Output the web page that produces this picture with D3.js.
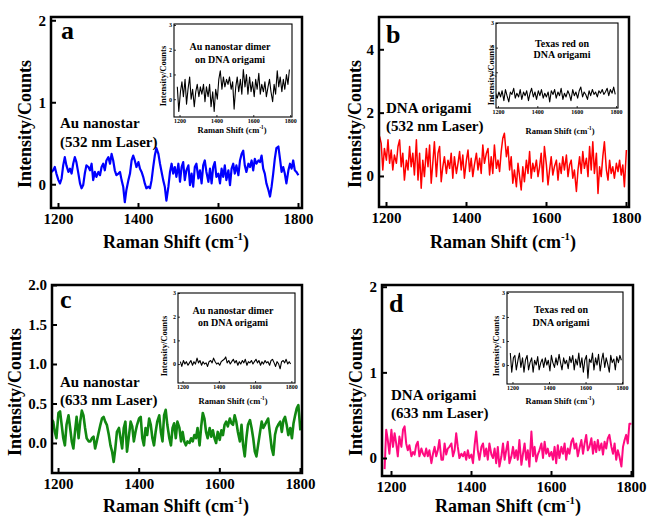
<!DOCTYPE html>
<html><head><meta charset="utf-8">
<script src="https://cdn.jsdelivr.net/npm/d3@7"></script>
<style>
body{margin:0;background:#fff}
svg{display:block}
text{font-family:"Liberation Serif","Times New Roman",serif;font-weight:bold;fill:#000}
</style>
</head><body>
<svg id="chart" width="647" height="519"></svg>
<script>
// ---------- DATA ----------
const shiftMain = [1184,
 1188,1192,1196,1201,1205,1209, 1213,1217,1221,1226,1230,1234, 1238,1242,1246,1251,1255,1259,
 1263,1267,1271,1276,1280,1284, 1288,1292,1296,1301,1305,1309, 1313,1317,1321,1326,1330,1334,
 1338,1342,1346,1351,1355,1359, 1363,1367,1371,1376,1380,1384, 1388,1392,1396,1401,1405,1409,
 1413,1417,1421,1426,1430,1434, 1438,1442,1446,1451,1455,1459, 1463,1467,1471,1476,1480,1484,
 1488,1492,1496,1501,1505,1509, 1513,1517,1521,1526,1530,1534, 1538,1542,1546,1551,1555,1559,
 1563,1567,1571,1576,1580,1584, 1588,1592,1596,1601,1605,1609, 1613,1617,1621,1626,1630,1634,
 1638,1642,1646,1651,1655,1659, 1663,1667,1671,1676,1680,1684, 1688,1692,1696,1701,1705,1709,
 1713,1717,1721,1726,1730,1734, 1738,1742,1746,1751,1755,1759, 1763,1767,1771,1776,1780,1784,
 1788,1792,1796,1801];

const shiftInset = [
 1188,1196,1205, 1213,1221,1230, 1238,1246,1255, 1263,1271,1280, 1288,1296,1305,
 1313,1321,1330, 1338,1346,1355, 1363,1371,1380, 1388,1396,1405, 1413,1421,1430,
 1438,1446,1455, 1463,1471,1480, 1488,1496,1505, 1513,1521,1530, 1538,1546,1555,
 1563,1571,1580, 1588,1596,1605, 1613,1621,1630, 1638,1646,1655, 1663,1671,1680,
 1688,1696,1705, 1713,1721,1730, 1738,1746,1755, 1763,1771,1780, 1788,1796];

// (a) Au nanostar, 532 nm
const auNanostar532 = [0.15,
 0.17,0.21,0.13,0.05,0.01,0.07,0.23,0.33,0.23,0.15,
 0.19,0.13,0.25,0.33,0.27,0.13,0.01,-0.05,-0.01,0.13,
 0.23,0.21,0.17,0.25,0.05,0.15,0.09,0.15,0.11,0.21,
 0.25,0.17,0.29,0.33,0.25,0.37,0.29,0.17,0.11,0.13,
 0.15,0.05,-0.03,-0.22,-0.07,0.05,0.13,0.29,0.35,0.29,
 0.21,0.27,0.19,0.15,0.09,0.01,-0.05,-0.03,-0.05,0.05,
 0.21,0.35,0.44,0.37,0.25,0.15,0.05,-0.03,-0.20,-0.03,
 0.15,0.25,0.13,0.21,0.09,0.25,0.03,0.21,0.27,0.05,
 0.17,0.23,-0.01,0.13,-0.03,0.21,0.25,0.07,0.17,0.01,
 0.23,0.29,0.15,0.03,0.19,0.01,0.21,0.27,0.09,0.13,
 0.01,0.19,0.09,0.23,0.05,0.17,-0.01,0.19,0.25,0.13,
 0.23,0.11,0.29,0.37,0.41,0.23,0.15,0.25,0.21,0.29,
 0.17,0.31,0.25,0.29,0.27,0.35,0.19,0.13,0.01,-0.07,
 -0.15,-0.03,0.13,0.31,0.44,0.46,0.31,0.15,0.21,0.13,
 0.01,0.17,0.25,0.19,0.29,0.17,0.15,0.11];

// (b) DNA origami, 532 nm
const dnaOrigami532 = [1.25,
 1.03,0.19,0.87,0.50,1.14,0.40,0.82,0.19,0.66,0.40,
 0.93,1.14,0.29,0.72,-0.13,0.50,0.19,0.93,0.29,0.72,
 0.03,1.14,-0.13,0.72,-0.39,0.50,-0.02,0.87,0.29,0.98,
 -0.23,0.40,1.08,-0.02,0.72,0.93,-0.18,0.29,0.61,0.08,
 0.50,0.24,0.72,-0.07,0.61,0.08,0.40,0.77,0.19,0.66,
 -0.07,0.50,0.82,0.14,0.56,-0.02,0.35,0.72,0.19,0.56,
 0.08,0.98,0.40,0.72,0.87,0.03,0.61,0.08,0.98,0.24,
 0.50,0.14,0.77,1.19,1.35,0.61,0.93,0.19,0.61,-0.23,
 0.19,-0.34,0.40,-0.02,-0.44,0.29,-0.18,0.50,0.08,0.77,
 -0.07,0.40,0.14,0.50,-0.02,0.29,0.72,-0.18,0.93,0.35,
 -0.28,0.19,0.61,0.03,0.29,0.50,-0.13,0.40,0.08,0.61,
 0.19,0.66,-0.02,0.35,0.50,-0.07,0.19,-0.49,0.19,0.61,
 0.08,0.77,0.24,0.56,-0.02,0.93,0.19,1.08,0.08,0.72,
 -0.55,0.29,-0.02,0.61,1.08,0.19,-0.13,0.50,0.08,0.29,
 -0.07,0.40,0.14,0.50,0.03,0.35,-0.34,0.82];

// (c) Au nanostar, 633 nm
const auNanostar633 = [0.30,
 0.27,0.14,0.06,0.38,0.40,0.23,0.06,-0.03,0.23,0.35,
 0.19,0.02,-0.07,0.14,0.33,0.06,0.27,0.41,0.35,0.19,
 0.06,0.02,0.02,0.06,0.08,-0.07,0.02,0.14,0.23,0.31,
 0.33,0.27,0.23,0.10,-0.03,-0.11,-0.24,-0.07,0.14,0.19,
 0.06,-0.07,0.19,0.27,-0.11,0.10,0.27,0.21,0.02,0.14,
 0.23,0.31,0.33,0.06,-0.03,0.19,0.10,0.31,0.23,0.06,
 -0.03,0.14,0.27,0.35,0.14,0.02,0.35,0.42,0.23,0.06,
 -0.03,0.19,0.25,0.06,0.27,0.19,0.02,0.14,0.02,-0.03,
 0.02,0.00,0.06,0.02,0.10,0.06,0.19,-0.03,0.21,0.38,
 0.31,0.14,0.06,0.19,0.08,0.16,0.06,0.00,0.14,0.04,
 0.16,0.10,0.23,0.27,0.21,0.31,0.25,0.23,0.35,0.27,
 0.14,0.02,0.23,-0.03,-0.17,0.06,0.23,0.29,0.19,0.06,
 -0.11,-0.17,-0.03,0.14,0.27,0.19,0.23,0.27,0.31,0.10,
 -0.07,-0.15,0.10,0.19,0.23,0.27,0.14,0.29,0.33,0.23,
 0.10,0.19,0.06,0.25,0.35,0.44,0.48,0.16];

// (d) DNA origami, 633 nm
const dnaOrigami633 = [-0.13,
 0.33,0.21,0.05,0.33,0.13,0.29,0.17,0.02,0.25,0.13,
 0.33,0.37,0.17,0.09,0.15,0.02,0.07,0.04,0.15,0.19,
 0.02,0.11,0.05,0.02,0.11,0.02,0.09,-0.06,0.05,0.13,
 0.02,0.09,0.21,-0.02,-0.02,0.17,0.04,0.11,0.13,0.17,
 0.02,0.09,0.29,0.13,0.00,0.05,0.02,0.07,-0.02,0.09,
 0.00,0.04,-0.06,0.15,0.31,0.09,-0.02,0.13,0.17,0.02,
 0.11,-0.02,0.17,0.04,0.00,0.11,-0.06,0.13,-0.10,0.02,
 0.17,-0.02,0.09,0.19,-0.06,0.02,0.13,0.00,0.09,-0.02,
 0.21,-0.08,0.05,0.17,-0.02,0.09,-0.10,0.31,0.02,0.13,
 -0.04,0.04,0.09,0.17,0.00,0.19,0.05,0.11,0.02,0.07,
 -0.02,0.13,-0.06,0.15,0.00,0.13,0.05,0.17,-0.02,0.11,
 0.05,0.19,0.23,0.11,0.17,0.02,0.11,0.21,0.05,0.17,
 0.27,0.09,0.13,0.23,0.05,0.19,0.07,0.21,0.09,0.17,
 0.04,0.19,0.11,0.23,0.27,0.13,0.05,0.17,-0.02,0.09,
 0.02,-0.10,0.13,0.21,0.27,0.17,0.40,0.40];

// insets
const dimer532 = [
 0.5,-0.5,0.3, 0.7,0.1,0.8, -0.2,0.4,0.9, 0.0,0.4,-0.3, 0.3,0.6,0.1,
 0.5,0.2,0.6, -0.1,0.5,0.1, 0.6,-0.3,0.3, -0.5,0.4,0.0, 0.8,1.15,0.4,
 0.9,0.5,0.8, 0.6,0.9,0.4, 0.7,-0.4,0.5, 0.9,0.3,0.8, 0.2,1.2,0.5,
 1.0,0.2,0.9, 0.3,0.7,0.1, 0.8,0.4,1.05, 0.2,0.6,0.3, 0.7,0.1,0.5,
 0.8,0.3,-0.1, 0.6,0.2,1.15, 0.5,0.9,0.3, 0.8,0.4,1.0, 0.6,1.2];
const texasRed532 = [
 0.15,-0.05,0.2,0.0,0.25,-0.15,0.3,0.05,-0.2,0.2,
 0.1,0.35,-0.05,0.15,0.0,0.3,-0.1,0.2,0.05,0.25,
 -0.15,0.15,0.35,0.0,0.2,-0.1,0.25,0.05,0.3,-0.05,
 0.15,0.0,0.2,-0.2,0.25,0.1,0.3,-0.05,0.2,0.05,
 0.35,-0.1,0.15,0.0,0.25,0.1,-0.15,0.3,0.05,0.2,
 -0.05,0.25,0.4,0.0,0.2,0.1,-0.1,0.25,0.05,0.3,
 0.1,0.2,0.0,0.25,0.15,0.3,0.1,0.2,0.35,0.05,
 0.3,0.15,0.4,0.1];
const dimer633 = [
 0.1,-0.1,0.15,0.0,0.1,-0.05,0.05,0.15,-0.05,0.1,
 0.0,0.25,0.05,0.15,-0.05,0.1,0.0,0.05,-0.1,0.1,
 0.15,0.05,0.25,0.1,0.0,0.05,-0.05,0.1,0.15,0.2,
 0.3,0.05,0.15,0.0,0.1,0.2,0.05,0.15,-0.05,0.1,
 0.0,0.15,0.05,0.2,-0.05,0.1,0.05,0.15,0.0,0.1,
 0.2,0.05,0.15,-0.05,0.1,0.0,0.15,0.05,0.1,-0.05,
 0.15,0.2,0.05,-0.1,0.1,0.0,-0.2,0.1,0.15,0.05,
 0.2,0.0,0.1,0.0];
const texasRed633 = [
 0.5,-0.3,0.3,0.4,-0.2,0.2,0.5,-0.1,0.3,-0.3,
 0.2,0.4,-0.2,0.1,0.3,-0.3,0.2,0.0,0.35,-0.2,
 0.1,0.25,-0.1,0.3,0.0,0.2,-0.25,0.4,0.1,-0.1,
 0.3,0.0,0.45,0.1,-0.2,0.3,0.05,0.2,-0.15,0.35,
 0.1,0.4,-0.2,0.25,0.0,0.5,-0.1,0.3,-0.3,0.2,
 0.4,-0.55,0.25,0.1,0.5,-0.2,0.3,0.0,0.45,-0.25,
 0.2,0.5,-0.1,0.3,0.05,-0.3,0.4,0.1,0.25,-0.2,
 0.35,0.1,0.4,0.2];

const xTicks = [1200, 1400, 1600, 1800];
const yTicksA = [0, 1, 2];
const yTicksB = [0, 2, 4];
const yTicksC = [0, 0.5, 1.0, 1.5, 2.0];
const yTicksD = [0, 1, 2];
const insetYTicks = [0, 1, 2, 3];
const panelLetters = ["a", "b", "c", "d"];
const sampleNames = ["Au nanostar", "DNA origami", "Au nanostar", "DNA origami"];
const laserNames = ["(532 nm Laser)", "(532 nm Laser)", "(633 nm Laser)", "(633 nm Laser)"];
const insetNames = [["Au nanostar dimer", "on DNA origami"], ["Texas red on", "DNA origami"],
                    ["Au nanostar dimer", "on DNA origami"], ["Texas red on", "DNA origami"]];
const yTitle = "Intensity/Counts";

// ---------- DRAWING ----------
const svg = d3.select("#chart");
const SERIF = '"Liberation Serif","Times New Roman",serif';
let clipN = 0;

function ramanTitle(cx, baseline, size) {
  const t = svg.append("text").attr("x", cx).attr("y", baseline)
    .attr("text-anchor", "middle").attr("font-size", size);
  t.append("tspan").text("Raman Shift (cm");
  t.append("tspan").attr("dy", -size * 0.42).attr("font-size", size * 0.6).text("-1");
  t.append("tspan").attr("dy", size * 0.42).text(")");
}
function yTitleText(cx, cy, size) {
  svg.append("text").attr("transform", `translate(${cx},${cy}) rotate(-90)`)
    .attr("text-anchor", "middle").attr("dominant-baseline", "central")
    .attr("font-size", size).text(yTitle);
}

function plot(p) {
  const x = d3.scaleLinear().domain(p.xDom).range([p.l, p.r]);
  const y = d3.scaleLinear().domain(p.yDom).range([p.b, p.t]);
  if (p.fill) svg.append("rect").attr("x", p.l).attr("y", p.t)
    .attr("width", p.r - p.l).attr("height", p.b - p.t).attr("fill", "#fff");
  const id = "clip" + (clipN++);
  svg.append("clipPath").attr("id", id).append("rect")
    .attr("x", p.l).attr("y", p.t).attr("width", p.r - p.l).attr("height", p.b - p.t);
  svg.append("path").datum(p.values)
    .attr("clip-path", `url(#${id})`)
    .attr("fill", "none").attr("stroke", p.color).attr("stroke-width", p.lw)
    .attr("stroke-linejoin", "round")
    .attr("d", d3.line().x((d, i) => x(p.xs[i])).y(d => y(d)));

  const gx = svg.append("g").attr("transform", `translate(0,${p.b})`)
    .call(d3.axisBottom(x).tickValues(xTicks).tickFormat(d3.format("d"))
      .tickSizeInner(-p.tick).tickSizeOuter(0).tickPadding(p.xpad));
  gx.select(".domain").remove();
  gx.attr("font-family", SERIF).attr("font-size", p.fs).attr("font-weight", "bold");
  gx.selectAll("line").attr("stroke-width", p.tw);

  const gy = svg.append("g").attr("transform", `translate(${p.l},0)`)
    .call(d3.axisLeft(y).tickValues(p.yTicks).tickFormat(d3.format(p.yFmt))
      .tickSizeInner(-p.tick).tickSizeOuter(0).tickPadding(p.ypad));
  gy.select(".domain").remove();
  gy.attr("font-family", SERIF).attr("font-size", p.fs).attr("font-weight", "bold");
  gy.selectAll("line").attr("stroke-width", p.tw);

  svg.append("rect").attr("x", p.l).attr("y", p.t)
    .attr("width", p.r - p.l).attr("height", p.b - p.t)
    .attr("fill", "none").attr("stroke", "#000").attr("stroke-width", p.frame);
}

const mainCfg = [
  {l:51, r:302, t:17, b:208, xDom:[1182.5,1810], yDom:[-0.29,2.04], yTicks:yTicksA, yFmt:"d",
   values:auNanostar532, color:"#0000ff", lw:2.2,
   yT:[25,124], xT:[176,248], letter:[61,39], ann:[60,128,147]},
  {l:379, r:629, t:17, b:207, xDom:[1182.5,1807.5], yDom:[-0.98,5.02], yTicks:yTicksB, yFmt:"d",
   values:dnaOrigami532, color:"#ff0000", lw:1.5,
   yT:[355,124], xT:[503,248], letter:[386,43], ann:[386,113,131]},
  {l:52, r:302, t:285, b:473, xDom:[1185,1805], yDom:[-0.38,2.0], yTicks:yTicksC, yFmt:".1f",
   values:auNanostar633, color:"#118811", lw:2.6,
   yT:[15,392], xT:[176,512], letter:[60,308], ann:[60,387,405]},
  {l:382, r:633, t:285, b:476, xDom:[1177.5,1805], yDom:[-0.21,2.02], yTicks:yTicksD, yFmt:"d",
   values:dnaOrigami633, color:"#ff0a80", lw:2.0,
   yT:[356,392], xT:[508,512], letter:[389,312], ann:[391,400,418]}
];
const insetCfg = [
  {l:174, r:292, t:24, b:117, xDom:[1170,1810], yDom:[-0.72,3.04], values:dimer532,
   txt:[230,50,63], yT:[163,76], xT:[232,132.5]},
  {l:496, r:618, t:23, b:108, xDom:[1190,1810], yDom:[-0.45,3.0], values:texasRed532,
   txt:[562,47,58], yT:[491,75], xT:[560,133.5]},
  {l:178, r:295, t:293, b:383, xDom:[1175,1820], yDom:[-0.8,3.0], values:dimer633,
   txt:[233,314,326], yT:[164,346], xT:[233,404]},
  {l:507, r:623, t:292, b:384, xDom:[1170,1805], yDom:[-0.79,3.04], values:texasRed633,
   txt:[561,313,326], yT:[496,346], xT:[560,404]}
];

mainCfg.forEach((c, i) => {
  plot(Object.assign({xs:shiftMain, tick:5, tw:2, xpad:5, ypad:5, fs:15, frame:2.5}, c));
  yTitleText(c.yT[0], c.yT[1], 18);
  ramanTitle(c.xT[0], c.xT[1], 18);
  svg.append("text").attr("x", c.letter[0]).attr("y", c.letter[1])
    .attr("font-size", 26).text(panelLetters[i]);
  svg.append("text").attr("x", c.ann[0]).attr("y", c.ann[1]).attr("font-size", 15).text(sampleNames[i]);
  svg.append("text").attr("x", c.ann[0]).attr("y", c.ann[2]).attr("font-size", 15).text(laserNames[i]);

  const s = insetCfg[i];
  plot(Object.assign({xs:shiftInset, tick:2, tw:0.8, xpad:1.5, ypad:2, fs:6, frame:1.1,
    yTicks:insetYTicks, yFmt:"d", color:"#000", lw:1.1, fill:true}, s));
  svg.append("text").attr("x", s.txt[0]).attr("y", s.txt[1]).attr("text-anchor", "middle")
    .attr("font-size", 10).text(insetNames[i][0]);
  svg.append("text").attr("x", s.txt[0]).attr("y", s.txt[2]).attr("text-anchor", "middle")
    .attr("font-size", 10).text(insetNames[i][1]);
  yTitleText(s.yT[0], s.yT[1], 8.5);
  ramanTitle(s.xT[0], s.xT[1], 8.5);
});
</script>
</body></html>
